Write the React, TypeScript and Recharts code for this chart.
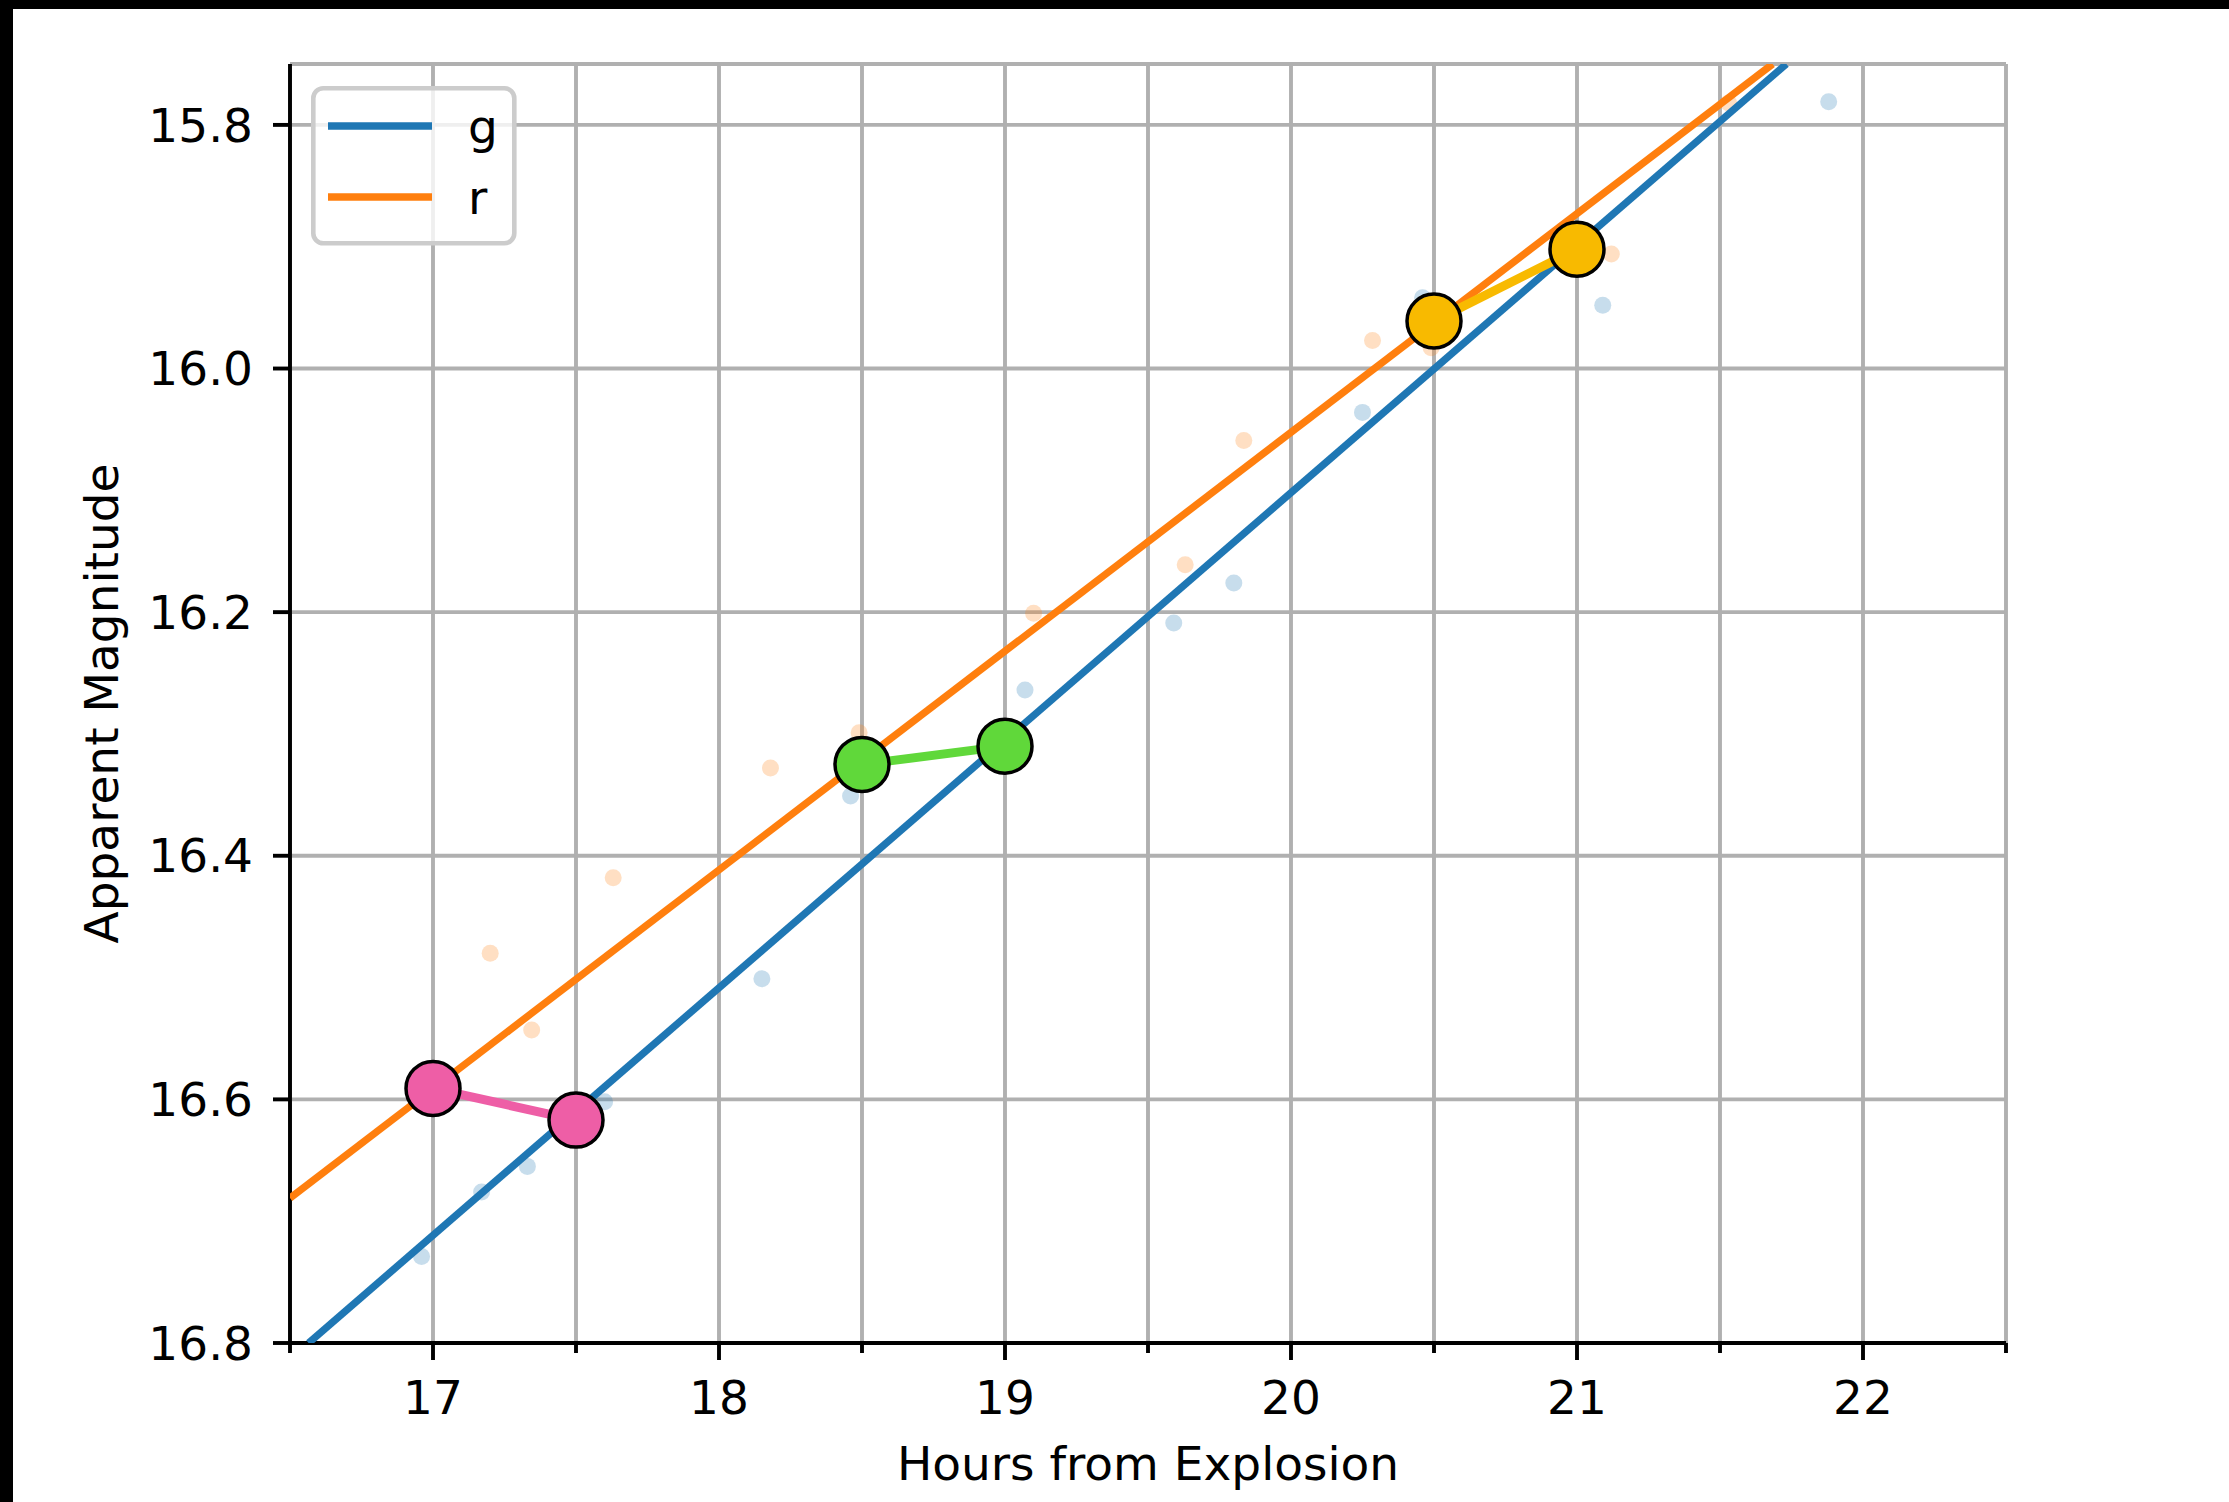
import React from "react";
import { ScatterChart, Scatter, XAxis, YAxis, CartesianGrid, Legend } from "recharts";

const FONT = "DejaVu Sans, sans-serif";

const X_TICKS = [16.5, 17, 17.5, 18, 18.5, 19, 19.5, 20, 20.5, 21, 21.5, 22, 22.5];
const Y_TICKS = [15.8, 16.0, 16.2, 16.4, 16.6, 16.8];
const X_DOMAIN = [16.5, 22.5];
const Y_DOMAIN = [15.75, 16.8];

// faint photometry, g band
const G_POINTS = [
  { x: 16.96, y: 16.729 },
  { x: 17.17, y: 16.676 },
  { x: 17.33, y: 16.655 },
  { x: 17.6, y: 16.602 },
  { x: 18.15, y: 16.501 },
  { x: 18.46, y: 16.351 },
  { x: 19.07, y: 16.264 },
  { x: 19.59, y: 16.209 },
  { x: 19.8, y: 16.176 },
  { x: 20.25, y: 16.036 },
  { x: 20.46, y: 15.942 },
  { x: 21.09, y: 15.948 },
  { x: 21.88, y: 15.781 },
];

// faint photometry, r band
const R_POINTS = [
  { x: 17.2, y: 16.48 },
  { x: 17.345, y: 16.543 },
  { x: 17.63, y: 16.418 },
  { x: 18.18, y: 16.328 },
  { x: 18.49, y: 16.299 },
  { x: 19.1, y: 16.201 },
  { x: 19.63, y: 16.161 },
  { x: 19.835, y: 16.059 },
  { x: 20.285, y: 15.977 },
  { x: 20.49, y: 15.983 },
  { x: 21.12, y: 15.906 },
  { x: 21.53, y: 15.782 },
];

// fitted lines, endpoints where they leave the axes
const G_FIT = [
  { x: 16.565, y: 16.8 },
  { x: 21.732, y: 15.75 },
];
const R_FIT = [
  { x: 16.5, y: 16.681 },
  { x: 21.684, y: 15.75 },
];

// highlighted pairs
const PINK_PAIR = [
  { x: 17.0, y: 16.591 },
  { x: 17.5, y: 16.617 },
];
const GREEN_PAIR = [
  { x: 18.5, y: 16.325 },
  { x: 19.0, y: 16.31 },
];
const GOLD_PAIR = [
  { x: 20.5, y: 15.961 },
  { x: 21.0, y: 15.902 },
];

const LEGEND_LABELS = ["g", "r"];
const LEGEND_COLORS = ["#1f77b4", "#ff7f0e"];

const W = 2229;
const H = 1502;
const LW = 3.9;
const X_TICK_SIZE = 17;
const X_TICK_GAP = 18;

const faintDot = (color: string) => (p: any) => (
  <circle cx={p.cx} cy={p.cy} r={8.5} fill={color} fillOpacity={0.25} />
);
const bigDot = (color: string) => (p: any) => (
  <circle cx={p.cx} cy={p.cy} r={27} fill={color} stroke="#000" strokeWidth={3.5} />
);
const noDot = () => <g />;

const XTick = (p: any) => {
  const v = p.payload.value;
  const major = Number.isInteger(v);
  const axisY = p.y - X_TICK_SIZE - X_TICK_GAP;
  return (
    <g>
      <line x1={p.x} x2={p.x} y1={axisY} y2={axisY + (major ? 17 : 10)} stroke="#000" strokeWidth={LW} />
      {major && (
        <text x={p.x} y={axisY + 71} textAnchor="middle" fontSize={47} fontFamily={FONT} fill="#000">
          {v}
        </text>
      )}
    </g>
  );
};

const LegendBox = () => (
  <svg width={210} height={162}>
    <rect x={2.3} y={2.3} width={201} height={155} rx={10} fill="#fff" fillOpacity={0.8} stroke="#cccccc" strokeWidth={4.6} />
    {LEGEND_LABELS.map((label, i) => (
      <g key={label}>
        <line x1={17} x2={121} y1={40 + i * 71} y2={40 + i * 71} stroke={LEGEND_COLORS[i]} strokeWidth={7.3} />
        <text x={157} y={57 + i * 71} fontSize={47} fontFamily={FONT} fill="#000">
          {label}
        </text>
      </g>
    ))}
  </svg>
);

export default function App() {
  return (
    <div style={{ position: "absolute", left: 0, top: 0, width: W, height: H, background: "#000", fontFamily: FONT }}>
      <div style={{ position: "absolute", left: 13, top: 9, right: 0, bottom: 0, background: "#fff" }} />
      <div style={{ position: "absolute", left: 0, top: 0 }}>
        <ScatterChart width={W} height={H} margin={{ top: 64, right: 223, bottom: 0, left: 0 }}>
          <CartesianGrid stroke="#b0b0b0" strokeWidth={LW} />
          <XAxis
            dataKey="x"
            type="number"
            domain={X_DOMAIN}
            allowDataOverflow
            ticks={X_TICKS}
            interval={0}
            height={159}
            tickSize={X_TICK_SIZE}
            tickMargin={X_TICK_GAP}
            tickLine={false}
            tick={<XTick />}
            axisLine={{ stroke: "#000", strokeWidth: LW }}
            label={{ value: "Hours from Explosion", position: "insideBottom", offset: 22, fontSize: 47, fill: "#000", fontFamily: FONT }}
          />
          <XAxis
            xAxisId="top"
            orientation="top"
            type="number"
            domain={X_DOMAIN}
            allowDataOverflow
            height={0}
            tick={false}
            tickLine={false}
            axisLine={{ stroke: "#000", strokeWidth: LW }}
          />
          <YAxis
            dataKey="y"
            type="number"
            domain={Y_DOMAIN}
            allowDataOverflow
            reversed
            ticks={Y_TICKS}
            interval={0}
            width={290}
            tickSize={17}
            tickMargin={20}
            tickFormatter={(v: number) => v.toFixed(1)}
            tick={{ fontSize: 47, fill: "#000", fontFamily: FONT }}
            tickLine={{ stroke: "#000", strokeWidth: LW }}
            axisLine={{ stroke: "#000", strokeWidth: LW }}
            label={{
              value: "Apparent Magnitude",
              angle: -90,
              position: "insideLeft",
              offset: 101,
              fontSize: 47,
              fill: "#000",
              fontFamily: FONT,
              style: { textAnchor: "middle" },
            }}
          />
          <YAxis
            yAxisId="right"
            orientation="right"
            type="number"
            domain={Y_DOMAIN}
            allowDataOverflow
            width={0}
            tick={false}
            tickLine={false}
            axisLine={{ stroke: "#000", strokeWidth: LW }}
          />
          <Legend
            layout="horizontal"
            verticalAlign="middle"
            align="center"
            content={<LegendBox />}
            wrapperStyle={{ left: 311, top: 86, width: 210, height: 162 }}
          />
          <Scatter name="g pts" data={G_POINTS} shape={faintDot("#1f77b4")} isAnimationActive={false} legendType="none" />
          <Scatter name="r pts" data={R_POINTS} shape={faintDot("#ff7f0e")} isAnimationActive={false} legendType="none" />
          <Scatter name="g" data={G_FIT} line={{ stroke: "#1f77b4", strokeWidth: 7.3 }} shape={noDot} isAnimationActive={false} />
          <Scatter name="r" data={R_FIT} line={{ stroke: "#ff7f0e", strokeWidth: 7.3 }} shape={noDot} isAnimationActive={false} />
          <Scatter name="pink" data={PINK_PAIR} line={{ stroke: "#ee5ea6", strokeWidth: 9 }} shape={bigDot("#ee5ea6")} isAnimationActive={false} legendType="none" />
          <Scatter name="green" data={GREEN_PAIR} line={{ stroke: "#60d83a", strokeWidth: 9 }} shape={bigDot("#60d83a")} isAnimationActive={false} legendType="none" />
          <Scatter name="gold" data={GOLD_PAIR} line={{ stroke: "#f8ba00", strokeWidth: 9 }} shape={bigDot("#f8ba00")} isAnimationActive={false} legendType="none" />
        </ScatterChart>
      </div>
    </div>
  );
}
